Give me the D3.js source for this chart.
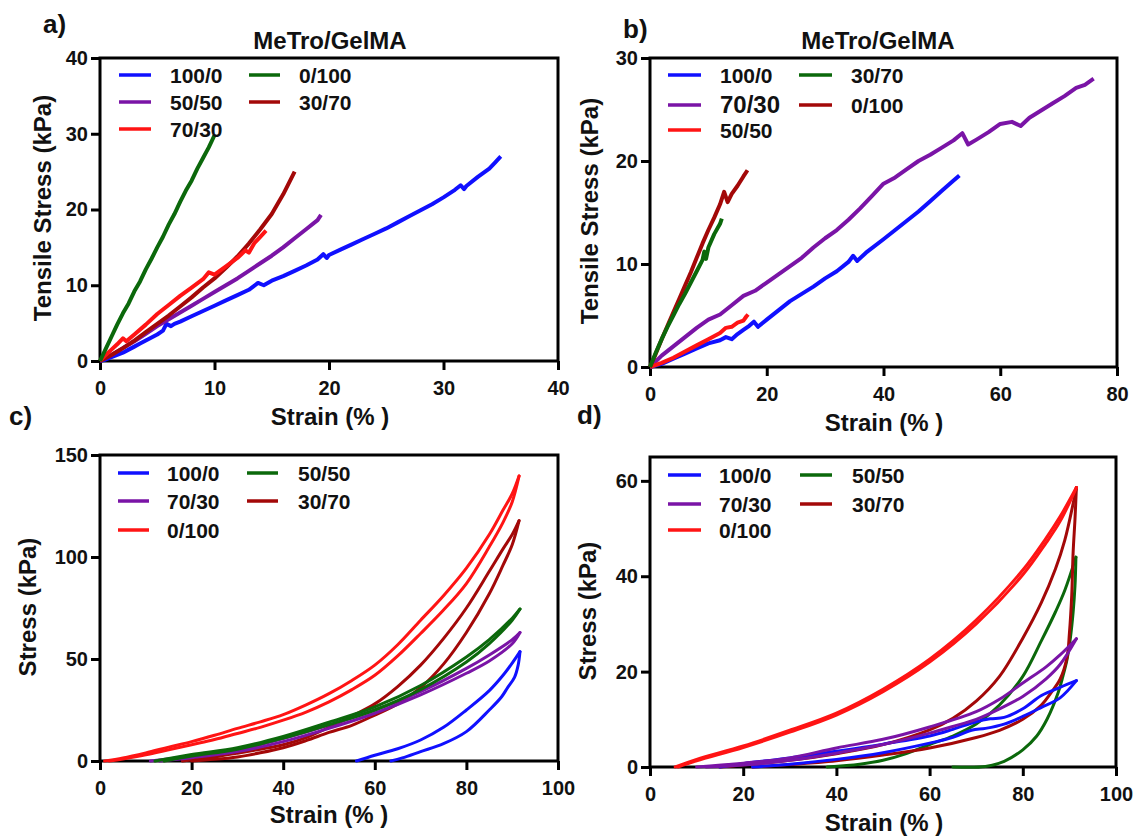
<!DOCTYPE html>
<html><head><meta charset="utf-8">
<script src="https://cdn.jsdelivr.net/npm/d3@7"></script>
<style>
body{margin:0;background:#fff}
text{font-family:"Liberation Sans",Arial,sans-serif;font-weight:bold;fill:#111}
</style></head><body>
<svg width="1138" height="839"></svg>
<script>
// series colours
var BLUE = "#1010ff", PURPLE = "#7a14a6", RED = "#ff1414", GREEN = "#0b680b", DRED = "#a30808";

// ---- a) tensile, MeTro/GelMA  [strain %, stress kPa]
var a100_0 = [[0,0],[0.5,0.2],[1,0.5],[1.5,0.8],[2,1.1],[2.5,1.5],[3,1.9],[3.5,2.3],[4,2.7],[4.5,3.1],[5,3.5],[5.5,4.0],[5.8,4.9],[6.2,4.6],[6.5,4.9],[7,5.2],[8,5.9],[9,6.6],[10,7.3],[11,8.0],[12,8.7],[13,9.4],[13.8,10.3],[14.3,10.0],[15,10.6],[16,11.2],[17,11.9],[18,12.6],[19,13.4],[19.5,14.1],[19.8,13.6],[20,14.0],[21,14.7],[22,15.4],[23,16.1],[24,16.8],[25,17.5],[26,18.3],[27,19.1],[28,19.9],[29,20.7],[30,21.6],[31,22.6],[31.5,23.2],[31.8,22.7],[32,23.1],[33,24.3],[34,25.4],[34.5,26.2],[35,27]];
var a0_100 = [[0,0],[0.5,1.6],[1,3.2],[1.5,4.8],[2,6.3],[2.5,7.6],[3,9.2],[3.5,10.5],[4,12.1],[4.5,13.5],[5,15],[5.5,16.4],[6,18],[6.5,19.4],[7,21],[7.5,22.5],[8,23.8],[8.5,25.4],[9,26.8],[9.5,28.2],[10,29.8]];
var a50_50 = [[0,0],[1,0.8],[2,1.7],[3,2.6],[4,3.6],[5,4.6],[6,5.5],[7,6.4],[8,7.3],[9,8.2],[10,9.1],[11,10.0],[12,10.9],[13,11.9],[14,12.9],[15,13.9],[16,15.0],[17,16.2],[18,17.4],[19,18.6],[19.3,19.3]];
var a70_30 = [[0,0],[0.5,0.8],[1,1.5],[1.5,2.2],[2,3.0],[2.3,2.6],[3,3.5],[4,4.8],[5,6.2],[6,7.4],[7,8.6],[8,9.7],[9,10.8],[9.5,11.7],[10,11.4],[11,12.5],[12,13.6],[12.7,14.6],[13,14.3],[13.5,15.6],[14,16.4],[14.5,17.2]];
var a30_70 = [[0,0],[1,0.8],[2,1.7],[3,2.7],[4,3.8],[5,4.9],[6,6.0],[7,7.2],[8,8.4],[9,9.7],[10,10.9],[11,12.3],[12,13.8],[13,15.5],[14,17.4],[15,19.4],[16,22.0],[17,25]];

// ---- b) tensile
var b100_0 = [[0,0],[2,0.3],[4,0.8],[6,1.3],[8,1.8],[10,2.3],[12,2.6],[13,2.9],[14,2.7],[15,3.2],[16,3.6],[17,4.0],[17.8,4.4],[18.5,3.9],[20,4.6],[22,5.5],[24,6.4],[26,7.1],[28,7.8],[30,8.6],[32,9.3],[34,10.2],[34.8,10.8],[35.5,10.3],[37,11.1],[40,12.4],[42,13.3],[44,14.2],[46,15.1],[48,16.1],[50,17.1],[52,18.1],[53,18.6]];
var b70_30 = [[0,0],[2,1.1],[4,2.0],[6,2.9],[8,3.8],[10,4.6],[12,5.1],[14,6.0],[16,6.9],[18,7.4],[20,8.2],[22,9.0],[24,9.8],[26,10.6],[28,11.6],[30,12.5],[32,13.3],[34,14.3],[36,15.4],[38,16.6],[40,17.8],[42,18.4],[44,19.2],[46,20.0],[48,20.6],[50,21.3],[52,22.0],[53.5,22.7],[54.5,21.6],[56,22.1],[58,22.8],[60,23.6],[62,23.8],[63.5,23.4],[65,24.2],[67,24.9],[69,25.6],[71,26.3],[73,27.1],[74.5,27.4],[76,28.0]];
var b50_50 = [[0,0],[2,0.4],[4,0.9],[6,1.5],[8,2.1],[10,2.7],[12,3.3],[13,3.8],[14,3.9],[15,4.3],[16,4.5],[16.5,4.9],[16.8,5.1]];
var b30_70 = [[0,0],[1,1.4],[2,2.7],[3,3.9],[4,5.0],[5,6.1],[6,7.1],[7,8.2],[8,9.3],[9,10.4],[9.3,11.2],[9.6,10.5],[10,11.6],[11,12.9],[12,13.9],[12.3,14.4]];
var b0_100 = [[0,0],[1,1.3],[2,2.7],[3,4.0],[4,5.3],[5,6.6],[6,7.9],[7,9.2],[8,10.6],[9,12.0],[10,13.3],[11,14.5],[12,15.8],[12.7,17.0],[13.3,16.0],[14,16.8],[15,17.6],[16,18.5],[16.7,19.1]];

// ---- c) cyclic compression, loading / unloading branches
var c100_0 = {up:[[56,0],[60,2.8],[65,6],[70,10.3],[75,16.5],[80,25],[85,34.5],[88,42],[90,48],[91.7,53.6]],
              down:[[91.7,53.6],[91.3,47],[90.5,41],[89,36],[87.7,31.5],[85,25],[80,14.4],[75,8.5],[70,4.6],[66,1.5],[63.5,0]]};
var c70_30 = {up:[[11,0],[20,2.3],[30,5.5],[40,11],[50,17.6],[60,25],[70,34],[80,45.4],[85,52],[90,59.5],[91.7,63]],
              down:[[91.7,63],[90,57.5],[85,49],[80,43],[70,32.4],[60,23.4],[50,16],[40,9.5],[30,4.6],[20,1.6],[13,0]]};
var c50_50 = {up:[[12,0],[20,3.2],[30,6.5],[40,12],[50,19],[60,26.5],[70,37],[80,51],[85,59.5],[90,70],[91.7,74.5]],
              down:[[91.7,74.5],[90,69],[85,57.5],[80,48.5],[70,35],[60,25],[50,17.8],[40,11.2],[30,5.8],[20,2.4],[14,0]]};
var c30_70 = {up:[[18,0],[25,2],[30,3.8],[35,5.8],[40,8],[45,11.5],[50,16.5],[55,22],[60,28],[65,36.5],[70,47],[75,60],[80,75],[85,93],[88,104],[90,111],[91.5,117.8]],
              down:[[91.5,117.8],[90,106],[88,96],[85,82],[80,63],[75,47.5],[70,36],[65,28],[60,22.5],[55,17.5],[50,14],[45,10],[40,6.5],[35,4],[30,2],[25,0.8],[20,0]]};
var c0_100 = {up:[[1,0],[5,1.5],[10,4],[15,6.8],[20,9.5],[25,12.6],[30,16],[35,19.2],[40,22.7],[45,27.5],[50,33],[55,39.5],[60,47],[65,57],[70,69],[75,81],[80,94.5],[85,111],[88,123],[90,131],[91.5,139.7]],
              down:[[91.5,139.7],[90,127],[88,117],[85,105],[80,87],[75,74],[70,62.5],[65,51.5],[60,42],[55,35],[50,29],[45,24],[40,20],[35,16.5],[30,13.5],[25,10.5],[20,8],[15,5.5],[10,3],[5,1],[2,0]]};

// ---- d) cyclic compression
var d100_0 = {up:[[15,0],[20,0.7],[30,1.9],[40,3.3],[50,4.8],[60,6.5],[65,7.9],[70,9.5],[73,10.1],[76,10.4],[80,12.2],[84,15],[88,16.7],[91.5,18.1]],
              down:[[91.5,18.1],[88,14.5],[84,12.5],[80,10.6],[76,9],[72,8.1],[69,7.7],[65,6.2],[60,5],[50,3],[40,1.6],[30,0.6],[22,0]]};
var d70_30 = {up:[[10,0],[20,0.8],[30,1.9],[40,4],[50,5.8],[60,8.4],[70,11.6],[75,14.2],[80,17.6],[85,21],[88,23.5],[91.5,26.9]],
              down:[[91.5,26.9],[88,21.5],[85,18.5],[80,14.8],[75,12.2],[70,10],[65,8.5],[60,7.1],[50,4.7],[40,2.9],[30,1.4],[20,0.4],[12,0]]};
var d50_50 = {up:[[38,0],[45,0.6],[50,1.4],[55,2.8],[60,4.7],[65,6.5],[70,9],[75,13],[80,19],[84,26.5],[87,32.5],[89,37],[91.4,44]],
              down:[[91.4,44],[91.2,38],[90.8,32.5],[90.2,27],[89.5,22.6],[88.6,19],[87.6,15.6],[85.2,10],[83,6.5],[80,3.6],[76,1.2],[72,0.1],[65,0]]};
var d30_70 = {up:[[15,0],[30,1.4],[40,2.8],[50,4.7],[60,7.8],[65,10.2],[70,13.8],[75,19],[80,27],[84,34.5],[87,41.5],[89,47.5],[91.5,58.6]],
              down:[[91.5,58.6],[91.2,52],[90.8,45],[90.5,36],[90,28],[89.5,23],[88,18.4],[86,15.5],[84,13],[80,10],[75,7.7],[70,6.2],[60,4],[50,2.5],[40,1.3],[30,0.5],[22,0]]};
var d0_100 = {up:[[5.4,0],[10,1.6],[20,4.4],[30,7.7],[40,11.3],[50,16.3],[60,22.6],[70,30.8],[80,41.3],[85,48],[88,52.5],[91.5,58.6]],
              down:[[91.5,58.6],[88,51.5],[85,47],[80,40.3],[70,30],[60,22],[50,15.8],[40,10.9],[30,7.3],[20,4.1],[10,1.3],[6,0]]};

// ticks
var ticksA = {x:[0,10,20,30,40], y:[0,10,20,30,40]};
var ticksB = {x:[0,20,40,60,80], y:[0,10,20,30]};
var ticksC = {x:[0,20,40,60,80,100], y:[0,50,100,150]};
var ticksD = {x:[0,20,40,60,80,100], y:[0,20,40,60]};

var svg = d3.select("svg");

var setup = function(box, xDom, yDom, ticks)
{
    var x = d3.scaleLinear().domain(xDom).range([box.l, box.r]);
    var y = d3.scaleLinear().domain(yDom).range([box.b, box.t]);
    var g = svg.append("g");
    var xa = g.append("g").attr("transform","translate(0,"+box.b+")")
        .call(d3.axisBottom(x).tickValues(ticks.x).tickSize(9).tickSizeOuter(0).tickPadding(11));
    var ya = g.append("g").attr("transform","translate("+box.l+",0)")
        .call(d3.axisLeft(y).tickValues(ticks.y).tickSize(9).tickSizeOuter(0).tickPadding(3));
    [xa, ya].forEach(function(a)
    {
        a.select(".domain").remove();
        a.selectAll("line").attr("stroke","#000").attr("stroke-width",3);
        a.selectAll("text").style("font-size","20px");
    });
    g.append("rect").attr("x",box.l).attr("y",box.t)
        .attr("width",box.r-box.l).attr("height",box.b-box.t)
        .attr("fill","none").attr("stroke","#000").attr("stroke-width",3);
    return {x:x, y:y, g:g};
}

// tensile traces are noisy in the original, keep them straight-segmented and a bit heavier
var drawNoisy = function(p, data, color)
{
    var line = d3.line().x(function(d){return p.x(d[0])}).y(function(d){return p.y(d[1])});
    p.g.append("path").attr("d", line(data)).attr("fill","none")
        .attr("stroke", color).attr("stroke-width",4).attr("stroke-linejoin","round");
}

var drawLoop = function(p, loop, color)
{
    var line = d3.line().curve(d3.curveCatmullRom)
        .x(function(d){return p.x(d[0])}).y(function(d){return p.y(d[1])});
    [loop.up, loop.down].forEach(function(part)
    {
        p.g.append("path").attr("d", line(part)).attr("fill","none")
            .attr("stroke", color).attr("stroke-width",3).attr("stroke-linecap","round");
    });
}

var legend = function(items, cols, rows)
{
    items.forEach(function(it)
    {
        var c = cols[it.col], ry = rows[it.row];
        svg.append("line").attr("x1",c.x1).attr("x2",c.x2).attr("y1",ry).attr("y2",ry)
            .attr("stroke", it.color).attr("stroke-width",3.5);
        svg.append("text").attr("x",c.tx).attr("y",ry+8).text(it.label)
            .style("font-size",(it.size||21)+"px");
    });
}

var label = function(txt, x, y, size, rot)
{
    var t = svg.append("text").text(txt).style("font-size",size+"px");
    if (rot) {
        t.attr("text-anchor","middle").attr("transform","translate("+x+","+y+") rotate(-90)");
    } else {
        t.attr("x",x).attr("y",y);
    }
    return t;
}

// ---------- panel a
var pa = setup({l:100,t:58,r:558,b:361}, [0,40], [0,40], ticksA);
drawNoisy(pa, a100_0, BLUE);
drawNoisy(pa, a50_50, PURPLE);
drawNoisy(pa, a30_70, DRED);
drawNoisy(pa, a70_30, RED);
drawNoisy(pa, a0_100, GREEN);
legend([{col:0,row:0,label:"100/0",color:BLUE},{col:0,row:1,label:"50/50",color:PURPLE},{col:0,row:2,label:"70/30",color:RED},
        {col:1,row:0,label:"0/100",color:GREEN},{col:1,row:1,label:"30/70",color:DRED}],
       [{x1:119,x2:151,tx:170},{x1:249,x2:280,tx:299}], [75,102,129]);

// ---------- panel b
var pb = setup({l:650,t:58,r:1117,b:367}, [0,80], [0,30], ticksB);
drawNoisy(pb, b70_30, PURPLE);
drawNoisy(pb, b100_0, BLUE);
drawNoisy(pb, b50_50, RED);
drawNoisy(pb, b0_100, DRED);
drawNoisy(pb, b30_70, GREEN);
legend([{col:0,row:0,label:"100/0",color:BLUE},{col:0,row:1,label:"70/30",color:PURPLE,size:24},{col:0,row:2,label:"50/50",color:RED},
        {col:1,row:0,label:"30/70",color:GREEN},{col:1,row:1,label:"0/100",color:DRED}],
       [{x1:668,x2:701,tx:720},{x1:799,x2:832,tx:851}], [75,105,130]);

// ---------- panel c
var pc = setup({l:100,t:455,r:558,b:761}, [0,100], [0,150], ticksC);
drawLoop(pc, c100_0, BLUE);
drawLoop(pc, c30_70, DRED);
drawLoop(pc, c70_30, PURPLE);
drawLoop(pc, c50_50, GREEN);
drawLoop(pc, c0_100, RED);
legend([{col:0,row:0,label:"100/0",color:BLUE},{col:0,row:1,label:"70/30",color:PURPLE},{col:0,row:2,label:"0/100",color:RED},
        {col:1,row:0,label:"50/50",color:GREEN},{col:1,row:1,label:"30/70",color:DRED}],
       [{x1:118,x2:149,tx:167},{x1:247,x2:278,tx:298}], [473,501,530]);

// ---------- panel d
var pd = setup({l:650,t:457,r:1116,b:767}, [0,100], [0,65], ticksD);
drawLoop(pd, d50_50, GREEN);
drawLoop(pd, d30_70, DRED);
drawLoop(pd, d100_0, BLUE);
drawLoop(pd, d70_30, PURPLE);
drawLoop(pd, d0_100, RED);
legend([{col:0,row:0,label:"100/0",color:BLUE},{col:0,row:1,label:"70/30",color:PURPLE},{col:0,row:2,label:"0/100",color:RED},
        {col:1,row:0,label:"50/50",color:GREEN},{col:1,row:1,label:"30/70",color:DRED}],
       [{x1:668,x2:701,tx:719},{x1:800,x2:832,tx:852}], [475,504,530]);

// titles and axis labels
label("MeTro/GelMA", 330, 49, 24).attr("text-anchor","middle");
label("MeTro/GelMA", 878, 49, 24).attr("text-anchor","middle");
label("a)", 43, 33, 26);
label("b)", 623, 38, 26);
label("c)", 9, 425, 26);
label("d)", 577, 424, 26);
label("Strain (% )", 330, 425, 24).attr("text-anchor","middle");
label("Strain (% )", 884, 431, 24).attr("text-anchor","middle");
label("Strain (% )", 329, 823, 24).attr("text-anchor","middle");
label("Strain (% )", 884, 831, 24).attr("text-anchor","middle");
label("Tensile Stress (kPa)", 51, 208, 24, true);
label("Tensile Stress (kPa)", 598, 211, 24, true);
label("Stress (kPa)", 36, 607, 24, true);
label("Stress (kPa)", 596, 611, 24, true);
</script>
</body></html>
